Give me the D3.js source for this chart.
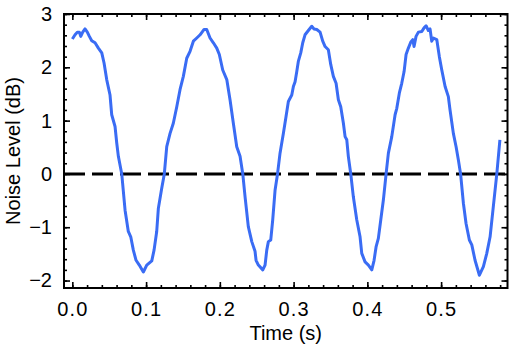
<!DOCTYPE html>
<html>
<head>
<meta charset="utf-8">
<script src="https://cdn.jsdelivr.net/npm/d3@7"></script>
<style>
  html, body { margin: 0; padding: 0; background: #fff; }
  svg { display: block; }
  text { font-family: "Liberation Sans", Arial, Helvetica, sans-serif; fill: #000; }
</style>
</head>
<body>
<svg id="chart" width="513" height="348"></svg>
<script>
// ---- data ----
const time = [
  0.0000, 0.0037, 0.0068, 0.0095, 0.0114, 0.0141, 0.0172, 0.0203, 0.0231, 0.0263,
  0.0308, 0.0353, 0.0399, 0.0430, 0.0466, 0.0511, 0.0534, 0.0579, 0.0602, 0.0624,
  0.0670, 0.0715, 0.0759, 0.0792, 0.0827, 0.0864, 0.0908, 0.0963, 0.1009, 0.1077,
  0.1108, 0.1144, 0.1166, 0.1212, 0.1247, 0.1280, 0.1325, 0.1369, 0.1416, 0.1460,
  0.1505, 0.1551, 0.1596, 0.1641, 0.1687, 0.1732, 0.1786, 0.1822, 0.1867, 0.1912,
  0.1958, 0.1993, 0.2039, 0.2094, 0.2138, 0.2183, 0.2229, 0.2274, 0.2311, 0.2342,
  0.2386, 0.2433, 0.2477, 0.2491, 0.2522, 0.2582, 0.2613, 0.2636, 0.2658, 0.2690,
  0.2717, 0.2749, 0.2782, 0.2816, 0.2861, 0.2898, 0.2929, 0.2975, 0.2997, 0.3020,
  0.3043, 0.3064, 0.3097, 0.3124, 0.3155, 0.3200, 0.3246, 0.3277, 0.3314, 0.3359,
  0.3395, 0.3427, 0.3471, 0.3504, 0.3539, 0.3576, 0.3607, 0.3639, 0.3675, 0.3698,
  0.3721, 0.3742, 0.3775, 0.3810, 0.3856, 0.3901, 0.3924, 0.3969, 0.4014, 0.4060,
  0.4091, 0.4118, 0.4149, 0.4182, 0.4217, 0.4254, 0.4285, 0.4331, 0.4376, 0.4399,
  0.4434, 0.4466, 0.4498, 0.4525, 0.4556, 0.4588, 0.4616, 0.4633, 0.4660, 0.4692,
  0.4738, 0.4769, 0.4796, 0.4827, 0.4850, 0.4873, 0.4895, 0.4941, 0.4976, 0.5009,
  0.5054, 0.5098, 0.5121, 0.5166, 0.5203, 0.5234, 0.5264, 0.5302, 0.5338, 0.5383,
  0.5416, 0.5460, 0.5519, 0.5573, 0.5619, 0.5664, 0.5708, 0.5755, 0.5797
];
const level = [
  2.53, 2.61, 2.66, 2.66, 2.58, 2.66, 2.72, 2.66, 2.58, 2.50,
  2.46, 2.36, 2.27, 2.08, 1.77, 1.48, 1.11, 0.89, 0.58, 0.33,
  0.00, -0.68, -1.08, -1.18, -1.43, -1.62, -1.71, -1.84, -1.71, -1.63,
  -1.43, -1.08, -0.65, -0.27, 0.00, 0.51, 0.76, 0.95, 1.26, 1.58,
  1.83, 2.17, 2.30, 2.49, 2.55, 2.61, 2.71, 2.71, 2.55, 2.46,
  2.36, 2.24, 1.95, 1.77, 1.39, 0.95, 0.51, 0.33, 0.00, -0.43,
  -0.99, -1.27, -1.45, -1.62, -1.71, -1.80, -1.71, -1.43, -1.27, -1.24,
  -0.86, -0.30, 0.00, 0.39, 0.76, 1.08, 1.36, 1.48, 1.64, 1.73,
  1.92, 2.11, 2.27, 2.46, 2.61, 2.69, 2.77, 2.72, 2.71, 2.66,
  2.49, 2.39, 2.33, 2.05, 1.83, 1.70, 1.39, 1.26, 0.95, 0.70,
  0.64, 0.33, 0.00, -0.43, -0.86, -1.18, -1.49, -1.65, -1.71, -1.80,
  -1.62, -1.37, -1.21, -0.86, -0.49, 0.00, 0.39, 0.70, 1.11, 1.23,
  1.52, 1.70, 1.92, 2.24, 2.36, 2.47, 2.52, 2.39, 2.58, 2.66,
  2.67, 2.74, 2.78, 2.69, 2.72, 2.49, 2.55, 2.52, 2.20, 1.95,
  1.64, 1.45, 1.20, 0.76, 0.51, 0.26, 0.00, -0.55, -0.93, -1.24,
  -1.33, -1.62, -1.90, -1.74, -1.49, -1.18, -0.61, 0.00, 0.64
];
const xMajorTicks = [0.0, 0.1, 0.2, 0.3, 0.4, 0.5];
const xTickLabels = ["0.0", "0.1", "0.2", "0.3", "0.4", "0.5"];
const yMajorTicks = [-2, -1, 0, 1, 2, 3];
const yTickLabels = ["\u22122", "\u22121", "0", "1", "2", "3"];
const xMinorTicks = d3.range(0, 0.59, 0.02).map(v => +v.toFixed(2));
const yMinorTicks = d3.range(-2.0, 3.01, 0.2).map(v => +v.toFixed(1));
const referenceLevel = [0];
const xDomain = [-0.0113, 0.590];
const yDomain = [-2.14, 3.0];
const xTitle = "Time (s)";
const yTitle = "Noise Level (dB)";

// ---- layout ----
const svg = d3.select("#chart");
const margin = { left: 64, top: 14, right: 5.5, bottom: 60 };
const W = 513, H = 348;
const iw = W - margin.left - margin.right;   // 443.5
const ih = H - margin.top - margin.bottom;   // 274

const x = d3.scaleLinear().domain(xDomain).range([0, iw]);
const y = d3.scaleLinear().domain(yDomain).range([ih, 0]);

const g = svg.append("g").attr("transform", `translate(${margin.left},${margin.top})`);

g.append("defs").append("clipPath").attr("id", "clip")
  .append("rect").attr("width", iw).attr("height", ih);

// ticks (inward, on all four sides)
function styleAxis(sel) {
  sel.select(".domain").remove();
  sel.selectAll(".tick line").attr("stroke", "#000").attr("stroke-width", 1.6);
}
const fontSize = 20;

g.append("g").attr("transform", `translate(0,${ih})`)
  .call(d3.axisBottom(x).tickValues(xMinorTicks).tickSize(-3).tickFormat(""))
  .call(styleAxis);
g.append("g")
  .call(d3.axisTop(x).tickValues(xMinorTicks).tickSize(-3).tickFormat(""))
  .call(styleAxis);
g.append("g")
  .call(d3.axisLeft(y).tickValues(yMinorTicks).tickSize(-3).tickFormat(""))
  .call(styleAxis);
g.append("g").attr("transform", `translate(${iw},0)`)
  .call(d3.axisRight(y).tickValues(yMinorTicks).tickSize(-3).tickFormat(""))
  .call(styleAxis);

const xb = g.append("g").attr("transform", `translate(0,${ih})`)
  .call(d3.axisBottom(x).tickValues(xMajorTicks).tickSize(-6).tickPadding(14)
    .tickFormat((d, i) => xTickLabels[i]))
  .call(styleAxis);
xb.selectAll("text").attr("font-size", fontSize).attr("font-family", null)
  .attr("fill", "#000").attr("letter-spacing", "1.2px");

g.append("g")
  .call(d3.axisTop(x).tickValues(xMajorTicks).tickSize(-6).tickFormat(""))
  .call(styleAxis);

const yl = g.append("g")
  .call(d3.axisLeft(y).tickValues(yMajorTicks).tickSize(-6).tickPadding(12)
    .tickFormat((d, i) => yTickLabels[i]))
  .call(styleAxis);
yl.selectAll("text").attr("font-size", fontSize).attr("font-family", null).attr("fill", "#000");

g.append("g").attr("transform", `translate(${iw},0)`)
  .call(d3.axisRight(y).tickValues(yMajorTicks).tickSize(-6).tickFormat(""))
  .call(styleAxis);

// zero reference dashed line
g.append("g").attr("clip-path", "url(#clip)")
  .selectAll("line.ref").data(referenceLevel).join("line")
  .attr("x1", 0).attr("x2", iw)
  .attr("y1", d => y(d)).attr("y2", d => y(d))
  .attr("stroke", "#000").attr("stroke-width", 3)
  .attr("stroke-dasharray", "21,7");

// data line
const pts = time.map((t, i) => [t, level[i]]);
g.append("path").datum(pts)
  .attr("clip-path", "url(#clip)")
  .attr("fill", "none")
  .attr("stroke", "#3a6cf4")
  .attr("stroke-width", 3)
  .attr("stroke-linejoin", "round")
  .attr("d", d3.line().x(d => x(d[0])).y(d => y(d[1])));

// frame
g.append("rect").attr("width", iw).attr("height", ih)
  .attr("fill", "none").attr("stroke", "#000").attr("stroke-width", 2);

// axis titles
g.append("text")
  .attr("x", iw / 2).attr("y", ih + 52)
  .attr("text-anchor", "middle").attr("font-size", fontSize)
  .text(xTitle);
g.append("text")
  .attr("transform", `translate(${-margin.left + 20},${ih / 2}) rotate(-90)`)
  .attr("text-anchor", "middle").attr("font-size", fontSize)
  .text(yTitle);
</script>
</body>
</html>
